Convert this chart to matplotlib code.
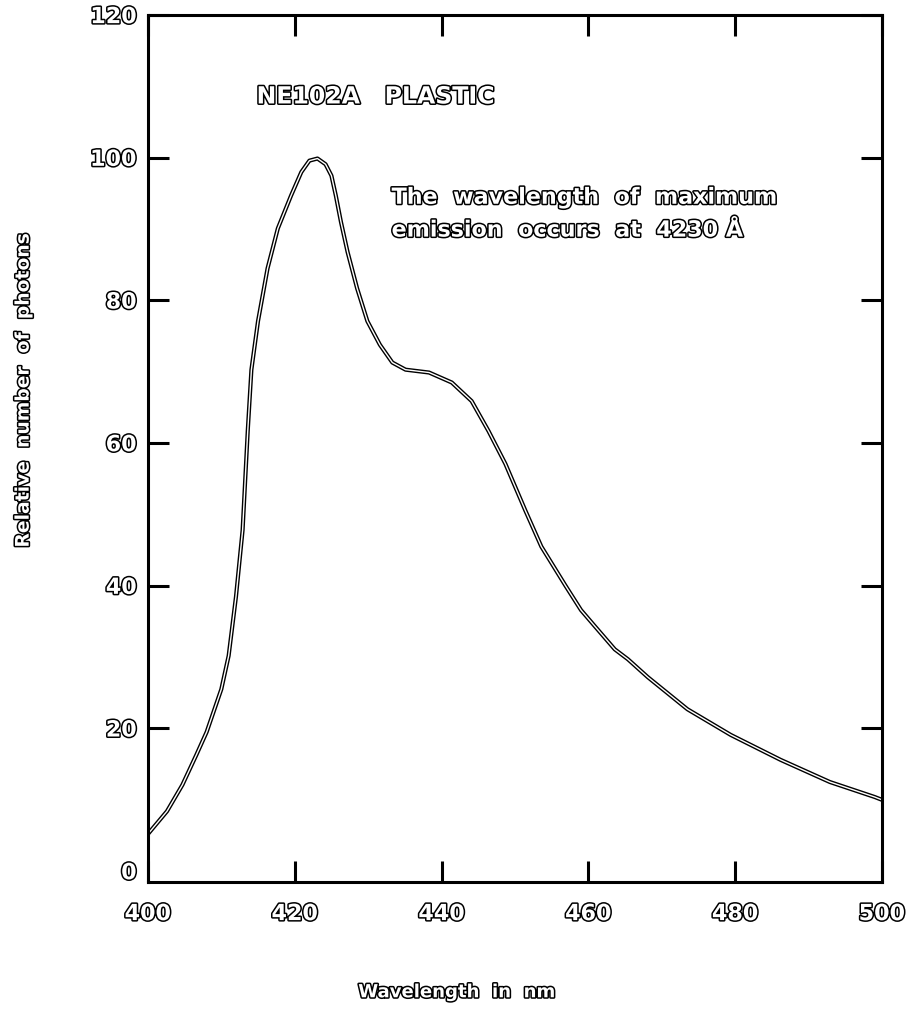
import matplotlib
matplotlib.use("Agg")
import matplotlib.pyplot as plt
import matplotlib.patheffects as pe

# emission spectrum of NE102A
wavelength = [400.0, 402.6, 404.7, 406.6, 408.0, 410.0, 411.0, 412.0, 412.9, 413.6,
              414.1, 415.0, 416.3, 417.7, 419.5, 420.9, 422.0, 423.1, 424.2, 425.0,
              425.6, 426.3, 427.2, 428.5, 429.9, 431.6, 433.3, 435.1, 438.3, 441.4,
              444.1, 446.4, 448.7, 451.4, 453.6, 456.9, 459.0, 461.0, 463.6, 465.4,
              468.1, 473.5, 479.4, 486.2, 492.9, 499.0, 500.0]
photons = [5.2, 8.4, 12.1, 16.3, 19.5, 25.5, 30.2, 38.5, 47.8, 61.7,
           70.3, 77.1, 84.5, 90.1, 94.7, 98.0, 99.6, 99.9, 99.1, 97.5,
           94.7, 91.0, 86.8, 81.7, 77.1, 73.8, 71.3, 70.3, 69.9, 68.5,
           65.9, 61.7, 57.1, 50.6, 45.5, 40.0, 36.6, 34.2, 31.1, 29.7,
           27.2, 22.7, 19.1, 15.6, 12.5, 10.4, 10.0]

x_ticks = [400, 420, 440, 460, 480, 500]
y_ticks = [0, 20, 40, 60, 80, 100, 120]

hollow = [pe.withStroke(linewidth=2.2, foreground="black")]

fig = plt.figure(figsize=(9.13, 10.09), dpi=100)
ax = fig.add_axes([0.162, 0.126, 0.804, 0.859])

# double-line look of the original pen trace
ax.plot(wavelength, photons, color="black", lw=3.0, solid_capstyle="round",
        solid_joinstyle="round")
ax.plot(wavelength, photons, color="white", lw=1.0, solid_capstyle="round",
        solid_joinstyle="round")

ax.set_xlim(400, 500)
ax.set_ylim(-1.5, 120)
ax.set_xticks(x_ticks)
ax.set_yticks(y_ticks)

for s in ax.spines.values():
    s.set_linewidth(2.2)

ax.tick_params(direction="in", top=True, right=True, length=15, width=2.2,
               labelsize=16, colors="black")
ax.tick_params(axis="x", pad=16)
ax.tick_params(axis="y", pad=8)
# no tick mark at zero on the y axis
t0 = ax.yaxis.get_major_ticks()[0]
t0.tick1line.set_visible(False)
t0.tick2line.set_visible(False)

for lab in ax.get_xticklabels() + ax.get_yticklabels():
    lab.set_color("white")
    lab.set_fontweight("bold")
    lab.set_path_effects(hollow)

ax.set_xlabel("Wavelength  in  nm", fontsize=13, fontweight="bold", color="white",
              path_effects=hollow)
ax.set_ylabel("Relative  number  of  photons", fontsize=13.5, fontweight="bold",
              color="white", path_effects=hollow)
ax.xaxis.set_label_coords(0.42, -0.117)
ax.yaxis.set_label_coords(-0.157, 0.567)

ax.text(414.8, 108.6, "NE102A   PLASTIC", fontsize=17, fontweight="bold",
        color="white", va="center", ha="left", path_effects=hollow)
ax.text(433.2, 94.4, "The  wavelength  of  maximum", fontsize=16, fontweight="bold",
        color="white", va="center", ha="left", path_effects=hollow)
ax.text(433.2, 89.8, "emission  occurs  at  4230 Å", fontsize=16, fontweight="bold",
        color="white", va="center", ha="left", path_effects=hollow)

fig.savefig("out.png", dpi=100)
